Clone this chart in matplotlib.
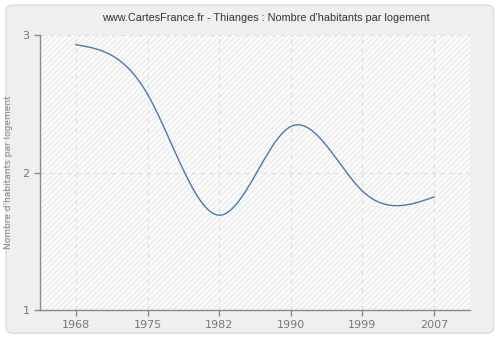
import numpy as np
import matplotlib
matplotlib.use("Agg")
import matplotlib.pyplot as plt
from matplotlib.patches import FancyBboxPatch

years = ["1968", "1975", "1982", "1990", "1999", "2007"]
values = [2.93, 2.57, 1.69, 2.335, 1.865, 1.823]
yticks = [1, 2, 3]
title = "www.CartesFrance.fr - Thianges : Nombre d'habitants par logement"
ylabel = "Nombre d'habitants par logement"


def natural_spline(x, y, xs):
    x = np.asarray(x, float); y = np.asarray(y, float)
    n = len(x)
    h = np.diff(x)
    A = np.zeros((n, n)); b = np.zeros(n)
    A[0, 0] = 1; A[-1, -1] = 1
    for i in range(1, n - 1):
        A[i, i - 1] = h[i - 1]
        A[i, i] = 2 * (h[i - 1] + h[i])
        A[i, i + 1] = h[i]
        b[i] = 3 * ((y[i + 1] - y[i]) / h[i] - (y[i] - y[i - 1]) / h[i - 1])
    c = np.linalg.solve(A, b)
    out = np.empty_like(xs)
    for k, xv in enumerate(xs):
        i = min(max(np.searchsorted(x, xv) - 1, 0), n - 2)
        d = xv - x[i]
        bi = (y[i + 1] - y[i]) / h[i] - h[i] * (2 * c[i] + c[i + 1]) / 3
        di = (c[i + 1] - c[i]) / (3 * h[i])
        out[k] = y[i] + bi * d + c[i] * d * d + di * d ** 3
    return out


fig = plt.figure(figsize=(5, 3.4), dpi=100)
fig.patch.set_facecolor("white")
bg = FancyBboxPatch((0.012, 0.02), 0.975, 0.965, boxstyle="round,pad=0,rounding_size=0.015",
                    transform=fig.transFigure, facecolor="#efefef", edgecolor="#dcdcdc",
                    linewidth=1, zorder=-10)
fig.patches.append(bg)

ax = fig.add_axes([0.08, 0.088, 0.86, 0.809])
ax.set_facecolor("#fbfbfb")
pos = np.arange(len(years))
ax.fill_between([-0.5, len(years) - 0.5], 1, 3, facecolor="none", edgecolor="#ececec",
                hatch="//////", linewidth=0, zorder=0)

xs = np.linspace(pos[0], pos[-1], 400)
ax.plot(xs, natural_spline(pos, values, xs), color="#4a78b0", linewidth=1, zorder=3)

ax.set_xlim(-0.5, len(years) - 0.5)
ax.set_ylim(1, 3)
ax.set_xticks(pos)
ax.set_xticklabels(years)
ax.set_yticks(yticks)
ax.grid(True, color="#dddddd", linestyle=(0, (4, 4)), linewidth=0.8)
ax.set_axisbelow(True)
for s in ["top", "right"]:
    ax.spines[s].set_visible(False)
for s in ["left", "bottom"]:
    ax.spines[s].set_color("#8a8a8a")
    ax.spines[s].set_linewidth(1)
ax.tick_params(colors="#8a8a8a", labelcolor="#777777", labelsize=8, length=4, width=1)
ax.set_ylabel(ylabel, fontsize=6.5, color="#888888")
ax.yaxis.set_label_coords(-0.063, 0.5)
fig.text(0.532, 0.947, title, ha="center", va="center", fontsize=7.8, color="#333333",
         family="Liberation Sans")

fig.savefig("out.png", dpi=100, facecolor=fig.get_facecolor())
